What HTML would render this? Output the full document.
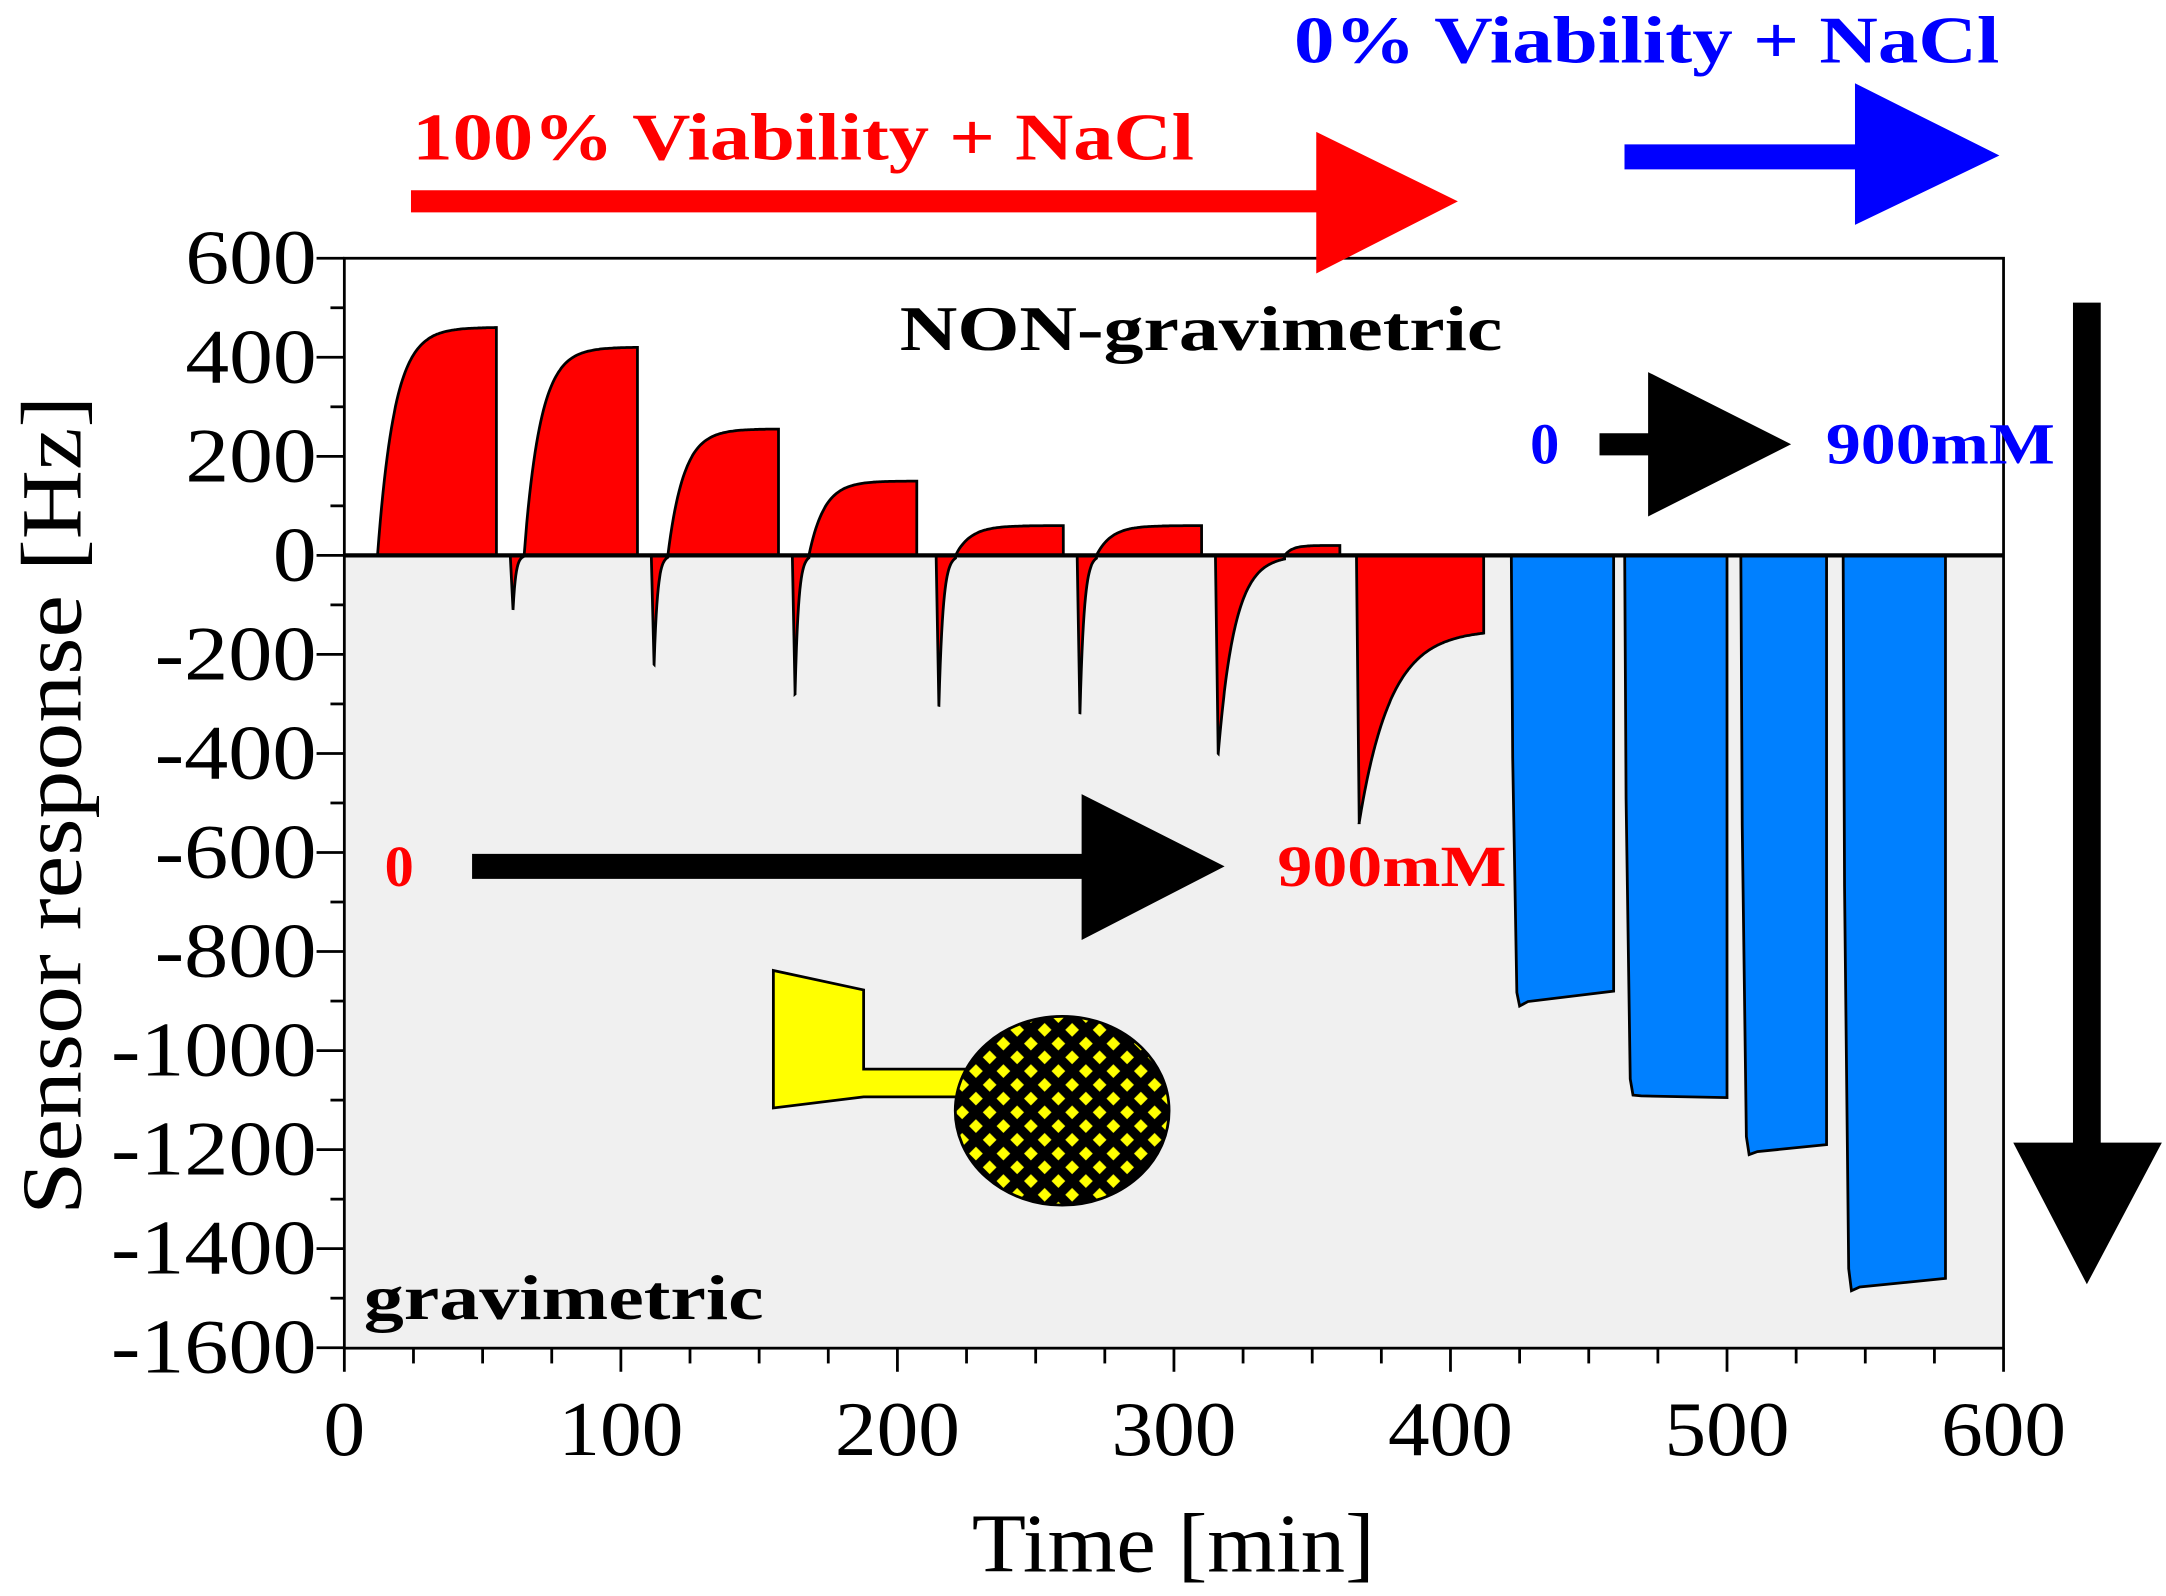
<!DOCTYPE html>
<html><head><meta charset="utf-8"><style>
html,body{margin:0;padding:0;background:#fff}
svg{display:block}
text{font-family:"Liberation Serif",serif}
</style></head><body>
<svg id="chart" width="2166" height="1596" viewBox="0 0 1560 1149.5" preserveAspectRatio="none" xmlns="http://www.w3.org/2000/svg">
<defs>
<pattern id="dots" width="14" height="14" patternUnits="userSpaceOnUse" patternTransform="rotate(45)">
<rect width="14" height="14" fill="#000"/><rect x="3" y="3" width="7" height="7" fill="#ffff00"/>
</pattern>
</defs>
<rect x="248" y="186" width="1195" height="214" fill="#fff"/>
<rect x="248" y="400" width="1195" height="571" fill="#f0f0f0"/>
<g id="series"></g>
<g id="axes"></g>

<g>
<text x="297" y="115" font-size="48" font-weight="bold" fill="#ff0000" textLength="563" lengthAdjust="spacingAndGlyphs">100% Viability + NaCl</text>
<polygon points="296,137 948,137 948,95 1050,145 948,197 948,153 296,153" fill="#ff0000"/>
</g>
<g>
<text x="932" y="45" font-size="48" font-weight="bold" fill="#0000ff" textLength="508" lengthAdjust="spacingAndGlyphs">0% Viability + NaCl</text>
<polygon points="1170,104 1336,104 1336,60 1440,112 1336,162 1336,122 1170,122" fill="#0000ff"/>
</g>
<text x="648" y="252" font-size="46" font-weight="bold" fill="#000" textLength="434" lengthAdjust="spacingAndGlyphs">NON-gravimetric</text>
<g>
<text x="1102" y="334" font-size="42" font-weight="bold" fill="#0000ff">0</text>
<polygon points="1152,312 1187,312 1187,268 1290,320 1187,372 1187,328 1152,328" fill="#000"/>
<text x="1315" y="334" font-size="42" font-weight="bold" fill="#0000ff" textLength="165" lengthAdjust="spacingAndGlyphs">900mM</text>
</g>
<g>
<text x="277" y="638" font-size="42" font-weight="bold" fill="#ff0000">0</text>
<polygon points="340,615 779,615 779,572 882,624 779,677 779,633 340,633" fill="#000"/>
<text x="920" y="638" font-size="42" font-weight="bold" fill="#ff0000" textLength="165" lengthAdjust="spacingAndGlyphs">900mM</text>
</g>
<text x="262" y="950" font-size="46" font-weight="bold" fill="#000" textLength="288" lengthAdjust="spacingAndGlyphs">gravimetric</text>
<polygon points="1493,218 1513,218 1513,823 1557,823 1503,925 1450,823 1493,823" fill="#000"/>
<g>
<polygon points="557,699 622,713 622,770 695,770 695,790 622,790 557,798" fill="#ffff00" stroke="#000" stroke-width="2"/>
<rect x="610" y="771" width="86" height="18" fill="#ffff00"/>
<ellipse cx="765" cy="800" rx="77" ry="68" fill="url(#dots)" stroke="#000" stroke-width="2"/>
</g>
<text transform="translate(58,580) rotate(-90)" font-size="62" text-anchor="middle" textLength="590" lengthAdjust="spacingAndGlyphs">Sensor response [Hz]</text>
<text x="845" y="1132" font-size="60" text-anchor="middle" textLength="290" lengthAdjust="spacingAndGlyphs">Time [min]</text>
</svg>
<script>
// ---- data ----
const posStart = [12, 65, 117, 168, 221, 272, 340];
const posEnd   = [55, 106, 157, 207, 260, 310, 360];
const posLevel = [460, 420, 255, 150, 60, 60, 20];
const dipTime  = [61, 112, 163, 215, 266, 316, 367];
const dipMin   = [-110, -220, -280, -305, -320, -400, -540];
const dipEnd   = [65, 117, 168, 221, 272, 340, 412];
const dipHold  = [0, 0, 0, 0, 0, 0, -150];
const blueStart = [422, 463, 505, 542];
const blueEnd   = [459, 500, 536, 579];
const blueMin   = [-910, -1090, -1210, -1485];
const blueEndVal = [-880, -1095, -1190, -1460];
const xTicks = [0, 100, 200, 300, 400, 500, 600];
const yTicks = [600, 400, 200, 0, -200, -400, -600, -800, -1000, -1200, -1400, -1600];

const NS = "http://www.w3.org/2000/svg";
const X = t => 248 + (t / 600) * 1195;
const Y = v => 400 - (v / 600) * 214;
const series = document.getElementById('series');
const axes = document.getElementById('axes');
function mk(tag, attrs, parent) { const e = document.createElementNS(NS, tag); for (const k in attrs) e.setAttribute(k, attrs[k]); parent.appendChild(e); return e; }

for (let i = 0; i < posStart.length; i++) {
  const s = posStart[i], e = posEnd[i], L = posLevel[i], tau = (e - s) / 7;
  let d = `M${X(s)},${Y(0)}`;
  for (let t = s; t <= e; t += 0.5) d += ` L${X(t).toFixed(1)},${Y(L * (1 - Math.exp(-(t - s) / tau)) / (1 - Math.exp(-(e - s) / tau))).toFixed(1)}`;
  d += ` L${X(e)},${Y(0)} Z`;
  const p = mk('path', { d, fill: '#ff0000', stroke: '#000', 'stroke-width': 2 }, series);
  
  
}
for (let i = 0; i < dipTime.length; i++) {
  const t0 = dipTime[i], e = dipEnd[i], m = dipMin[i], h = dipHold[i], tau = (e - t0) / 4;
  let d = `M${X(t0 - 1)},${Y(0)} L${X(t0)},${Y(m)}`;
  for (let t = t0; t <= e; t += 0.25) d += ` L${X(t).toFixed(1)},${Y(h + (m - h) * Math.exp(-(t - t0) / tau)).toFixed(1)}`;
  d += ` L${X(e)},${Y(0)} Z`;
  const p = mk('path', { d, fill: '#ff0000', stroke: '#000', 'stroke-width': 2 }, series);
  
  
}
for (let i = 0; i < blueStart.length; i++) {
  const s = blueStart[i], e = blueEnd[i], m = blueMin[i], ev = blueEndVal[i];
  const d = `M${X(s)},${Y(0)} L${X(s + 0.5)},${Y(m * 0.45)} L${X(s + 2)},${Y(m * 0.97)} L${X(s + 3)},${Y(m)} L${X(s + 6)},${Y((m + ev) / 2 - (ev - m) * 0.2)} L${X(e)},${Y(ev)} L${X(e)},${Y(0)} Z`;
  const p = mk('path', { d, fill: '#0080ff', stroke: '#000', 'stroke-width': 2 }, series);
  
  
}

const fr = mk('rect', { x: 248, y: 186, width: 1195, height: 785, fill: 'none', stroke: '#000', 'stroke-width': 2 }, axes);


const zl = mk('line', { x1: 248, x2: 1443, y1: Y(0), y2: Y(0), stroke: '#000', 'stroke-width': 3 }, axes);


for (let v = -1600; v <= 600; v += 100) {
  const major = v % 200 === 0;
  mk('line', { x1: major ? 228 : 238, x2: 248, y1: Y(v), y2: Y(v), stroke: '#000', 'stroke-width': 2 }, axes);
}
yTicks.forEach(v => {
  const s = String(v);
  const w = s.replace('-', '').length * 31.5 + (v < 0 ? 22 : 0);
  const t = mk('text', { x: 228 - w, y: Y(v) + 18, 'font-size': 56, textLength: w, lengthAdjust: 'spacingAndGlyphs' }, axes);
  t.textContent = s;
  
  
});
for (let t = 0; t <= 600; t += 25) {
  const major = t % 100 === 0;
  mk('line', { x1: X(t), x2: X(t), y1: 971, y2: major ? 988 : 982, stroke: '#000', 'stroke-width': 2 }, axes);
}
xTicks.forEach(v => {
  const s = String(v);
  const w = s.length * 30;
  const t = mk('text', { x: X(v) - w / 2, y: 1048, 'font-size': 56, textLength: w, lengthAdjust: 'spacingAndGlyphs' }, axes);
  t.textContent = s;
  
  
});
</script>
</body></html>
